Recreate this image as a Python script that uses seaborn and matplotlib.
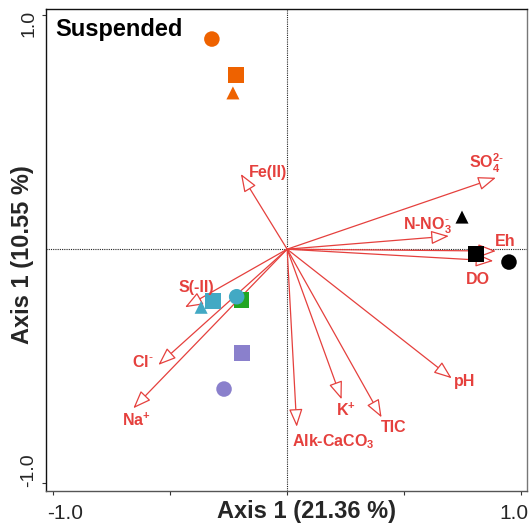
import numpy as np
import pandas as pd
import matplotlib
matplotlib.use("Agg")
import matplotlib.pyplot as plt
import seaborn as sns
from matplotlib.transforms import ScaledTranslation

# ---------------- data ----------------
site_group = ["Orange", "Orange", "Orange", "Black", "Black", "Black",
              "Cyan", "Cyan", "Green", "Cyan", "Purple", "Purple"]
site_shape = ["circle", "square", "triangle", "triangle", "square", "circle",
              "square", "triangle", "square", "circle", "square", "circle"]
site_x = [-0.322, -0.219, -0.232, 0.748, 0.808, 0.949,
          -0.317, -0.368, -0.196, -0.216, -0.193, -0.270]
site_y = [0.897, 0.744, 0.667, 0.137, -0.021, -0.055,
          -0.221, -0.248, -0.216, -0.203, -0.443, -0.597]

var_names = [r"SO$_4^{2\text{-}}$", r"N-NO$_3^{\text{-}}$", "Eh", "DO", "Fe(II)",
             "S(-II)", r"Cl$^{\text{-}}$", r"Na$^{+}$", r"Alk-CaCO$_3$", r"K$^{+}$",
             "TIC", "pH"]
var_x = [0.893, 0.692, 0.893, 0.882, -0.198, -0.437,
         -0.551, -0.658, 0.041, 0.233, 0.404, 0.704]
var_y = [0.305, 0.056, -0.008, -0.050, 0.321, -0.248,
         -0.494, -0.679, -0.758, -0.641, -0.718, -0.551]

# label anchor positions (layout)
label_x = [0.854, 0.602, 0.932, 0.816, -0.082, -0.390,
           -0.617, -0.647, 0.020, 0.251, 0.455, 0.760]
label_y = [0.368, 0.108, 0.039, -0.123, 0.330, -0.157,
           -0.477, -0.729, -0.819, -0.687, -0.755, -0.558]
label_ha = ["center"] * 8 + ["left"] + ["center"] * 3

x_ticks = [-1.0, -0.5, 0.0, 0.5, 1.0]
x_ticklabels = ["-1.0", "", "", "", "1.0"]
y_ticks = [-1.0, 1.0]
y_ticklabels = ["-1.0", "1.0"]

panel_title = "Suspended"
x_title = "Axis 1 (21.36 %)"
y_title = "Axis 1 (10.55 %)"

# ---------------- style ----------------
sns.set_style("white")
plt.rcParams["font.family"] = ["Liberation Sans", "DejaVu Sans"]
plt.rcParams["mathtext.fontset"] = "custom"
plt.rcParams["mathtext.default"] = "regular"

RED = "#E5403D"
palette = {"Orange": "#EE6200", "Black": "#000000", "Cyan": "#42A9C4",
           "Green": "#22A622", "Purple": "#8A80CC"}
marker_map = {"square": "s", "triangle": "^", "circle": "o"}
size_map = {"square": 125, "triangle": 88, "circle": 125}

df = pd.DataFrame({"x": site_x, "y": site_y, "group": site_group,
                   "shape": site_shape})

fig = plt.figure(figsize=(5.30, 5.25), dpi=100)
ax = fig.add_axes([0.0862, 0.0653, 0.9081, 0.9170])
ax.set_xlim(-1.033, 1.026)
ax.set_ylim(-1.031, 1.024)

# zero lines
ax.axhline(0, color="#222222", lw=0.8, ls=(0, (1, 1)), zorder=1)
ax.axvline(0, color="#222222", lw=0.8, ls=(0, (1, 1)), zorder=1)

# arrows
for vx, vy in zip(var_x, var_y):
    ax.annotate("", xy=(vx, vy), xytext=(0, 0),
                arrowprops=dict(arrowstyle="-|>,head_length=1.1,head_width=0.42",
                                mutation_scale=10, fc="white", ec=RED, lw=0.9,
                                shrinkA=0, shrinkB=0),
                zorder=2)

# sites
for shp in ["square", "triangle", "circle"]:
    sub = df[df["shape"] == shp]
    sns.scatterplot(data=sub, x="x", y="y", hue="group", palette=palette,
                    marker=marker_map[shp], s=size_map[shp], linewidth=0,
                    legend=False, ax=ax, zorder=3)

# variable labels
for name, lx, ly, ha in zip(var_names, label_x, label_y, label_ha):
    ax.text(lx, ly - 0.024, name, color=RED, fontsize=11.5, fontweight="bold",
            ha=ha, va="baseline", zorder=4)

ax.text(0.0193, 0.959, panel_title, transform=ax.transAxes, fontsize=17,
        fontweight="bold", ha="left", va="center", color="black")

# axes / ticks
ax.set_xticks(x_ticks)
ax.set_xticklabels(x_ticklabels, fontsize=15)
ax.set_yticks(y_ticks)
ax.set_yticklabels(y_ticklabels, fontsize=14, rotation=90, va="center")
ax.tick_params(axis="x", bottom=True, direction="out", length=3, width=0.8,
               pad=6.5, color="#333333")
ax.tick_params(axis="y", left=True, direction="out", length=3, width=0.8,
               pad=3, color="#333333")

dpi = fig.dpi
xoff = {"-1.0": 12, "1.0": -7}
for lab in ax.get_xticklabels():
    t = lab.get_text()
    if t in xoff:
        lab.set_transform(lab.get_transform() +
                          ScaledTranslation(xoff[t] / dpi, 0, fig.dpi_scale_trans))
yoff = {"1.0": -9, "-1.0": 13}
for lab in ax.get_yticklabels():
    t = lab.get_text()
    if t in yoff:
        lab.set_transform(lab.get_transform() +
                          ScaledTranslation(0, yoff[t] / dpi, fig.dpi_scale_trans))

ax.set_xlabel(x_title, fontsize=17, fontweight="bold", va="center")
ax.xaxis.set_label_coords(0.541, -0.0432)
ax.set_ylabel(y_title, fontsize=17, fontweight="bold", va="center")
ax.yaxis.set_label_coords(-0.049, 0.49)

for side, col in [("left", "#111111"), ("top", "#111111"),
                  ("bottom", "#555555"), ("right", "#777777")]:
    ax.spines[side].set_color(col)
    ax.spines[side].set_linewidth(1.0)

fig.savefig("out.png", dpi=100)
